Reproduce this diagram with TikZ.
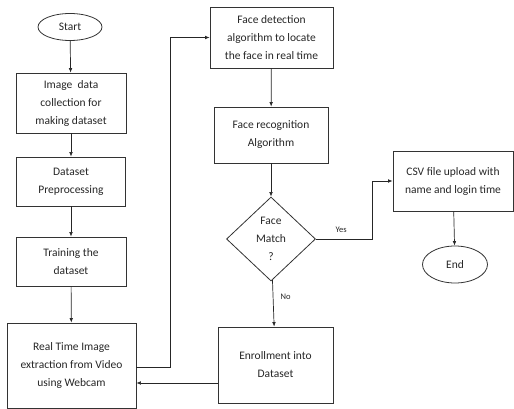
\documentclass[tikz,border=0pt]{standalone}
\usepackage{fontspec}
\setmainfont{Carlito}
\usetikzlibrary{arrows.meta, shapes.geometric}

\begin{document}
\begin{tikzpicture}[
    x=1pt, y=-1pt,
    font=\fontsize{11.5}{18}\selectfont,
    step box/.style={
        rectangle, draw=black!80, line width=0.8pt,
        inner sep=2pt, align=center, text=black!85
    },
    term/.style={
        ellipse, draw=black!80, line width=0.8pt,
        inner sep=0pt, align=center, text=black!85
    },
    decision/.style={
        diamond, draw=black!80, line width=0.8pt,
        inner sep=0pt, align=center, text=black!85
    },
    arr/.style={-{Latex[length=1.6mm, width=1.3mm]}, line width=0.7pt, draw=black!85},
    branch/.style={font=\fontsize{8.5}{10}\selectfont, text=black!85}
]
\useasboundingbox (0,0) rectangle (514,409);

% ---------------- Training path ----------------
\node[term, minimum width=64, minimum height=27] (start) at (70,27) {Start};
\node[step box, minimum width=110, minimum height=60] (collect) at (71,103) {Image~ data\\ collection for\\ making dataset};
\node[step box, minimum width=109, minimum height=49] (prep) at (71,181.5) {Dataset\\ Preprocessing};
\node[step box, minimum width=110, minimum height=49] (train) at (71,261.5) {Training the\\ dataset};
\node[step box, minimum width=129, minimum height=85] (realtime) at (71.5,365.5) {Real Time Image\\ extraction from Video\\ using Webcam};

% ---------------- Recognition path ----------------
\node[step box, minimum width=123, minimum height=61] (detect) at (271.5,37.5) {Face detection\\ algorithm to locate\\ the face in real time};
\node[step box, minimum width=114, minimum height=56] (recog) at (271,135) {Face recognition\\ Algorithm};
\node[decision, minimum width=89, minimum height=84] (match) at (271,239) {Face\\ Match\\ ?};
\node[step box, minimum width=115, minimum height=76] (enroll) at (275.5,365) {Enrollment into\\ Dataset};

% ---------------- Output ----------------
\node[step box, minimum width=120, minimum height=60] (csv) at (453,181) {CSV file upload with\\ name and login time};
\node[term, minimum width=65, minimum height=37] (end) at (455,264.5) {End};

% ---------------- Arrows ----------------
\draw[arr] (start) -- (collect);
\draw[arr] (collect) -- (prep);
\draw[arr] (prep) -- (train);
\draw[arr] (train) -- (realtime);
\draw[arr] ([yshift=-1.5]realtime.east) -- ++(34,0) |- (detect.west);
\draw[arr] (detect) -- (recog);
\draw[arr] (recog) -- (match);
\draw[arr] (match) -- node[branch, right=4pt, pos=0.35] {No} (enroll);
\draw[arr] (match.east) -- node[branch, above=3pt, pos=0.45] {Yes} ++(56,0) |- (csv.west);
\draw[arr] (csv) -- (end);
\draw[arr] ([yshift=-18]enroll.west) -- ([yshift=-18]enroll.west -| realtime.east);

\end{tikzpicture}
\end{document}
